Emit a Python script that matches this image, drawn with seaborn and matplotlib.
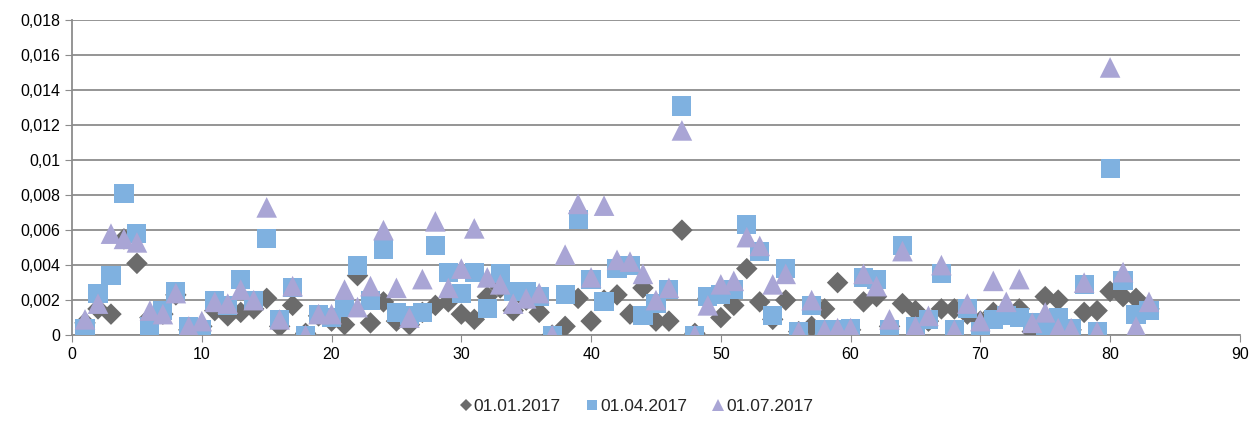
import pandas as pd
import numpy as np
import seaborn as sns
import matplotlib.pyplot as plt
from matplotlib.ticker import FuncFormatter, MultipleLocator

# values (x = 1..83)
idx = list(range(1, 84))

jan = [0.0007, 0.0015, 0.0012, 0.0055, 0.0041, 0.0010, 0.0012, 0.0023, 0.0003, 0.0005,
       0.0014, 0.0011, 0.0013, 0.0015, 0.0021, 0.0005, 0.0017, 0.0001, 0.0011, 0.0008,
       0.0006, 0.0034, 0.0007, 0.0019, 0.0008, 0.0006, 0.0013, 0.0017, 0.0019, 0.0012,
       0.0009, 0.0022, 0.0027, 0.0014, 0.0020, 0.0013, 0.0000, 0.0005, 0.0021, 0.0008,
       0.0020, 0.0023, 0.0012, 0.0027, 0.0008, 0.0008, 0.0060, 0.0001, 0.0021, 0.0010,
       0.0017, 0.0038, 0.0019, 0.0009, 0.0020, 0.0002, 0.0005, 0.0015, 0.0030, 0.0003,
       0.0019, 0.0022, 0.0005, 0.0018, 0.0014, 0.0008, 0.0015, 0.0015, 0.0012, 0.0008,
       0.0013, 0.0012, 0.0015, 0.0002, 0.0022, 0.0020, 0.0003, 0.0013, 0.0014, 0.0025,
       0.0022, 0.0021, 0.0015]

apr = [0.0004, 0.0024, 0.0034, 0.0081, 0.0058, 0.0005, 0.0014, 0.0025, 0.0005, 0.0003,
       0.0020, 0.0017, 0.0032, 0.0020, 0.0055, 0.0009, 0.0027, 0.0000, 0.0012, 0.0010,
       0.0016, 0.0040, 0.0020, 0.0049, 0.0013, 0.0011, 0.0013, 0.0051, 0.0036, 0.0024,
       0.0036, 0.0015, 0.0035, 0.0025, 0.0025, 0.0022, 0.0000, 0.0023, 0.0066, 0.0032,
       0.0019, 0.0038, 0.0040, 0.0011, 0.0018, 0.0026, 0.0131, 0.0000, 0.0022, 0.0023,
       0.0026, 0.0063, 0.0048, 0.0011, 0.0038, 0.0002, 0.0017, 0.0003, 0.0003, 0.0004,
       0.0033, 0.0032, 0.0003, 0.0051, 0.0005, 0.0009, 0.0035, 0.0003, 0.0015, 0.0002,
       0.0009, 0.0011, 0.0010, 0.0007, 0.0004, 0.0010, 0.0004, 0.0029, 0.0002, 0.0095,
       0.0031, 0.0012, 0.0014]

jul = [0.0009, 0.0018, 0.0058, 0.0055, 0.0053, 0.0014, 0.0012, 0.0024, 0.0005, 0.0008,
       0.0019, 0.0018, 0.0026, 0.0020, 0.0073, 0.0009, 0.0028, 0.0000, 0.0012, 0.0012,
       0.0026, 0.0016, 0.0028, 0.0060, 0.0027, 0.0010, 0.0032, 0.0065, 0.0027, 0.0038,
       0.0061, 0.0033, 0.0029, 0.0018, 0.0021, 0.0024, 0.0000, 0.0046, 0.0075, 0.0033,
       0.0074, 0.0043, 0.0042, 0.0035, 0.0020, 0.0027, 0.0117, 0.0000, 0.0017, 0.0029,
       0.0031, 0.0056, 0.0051, 0.0029, 0.0035, 0.0002, 0.0020, 0.0003, 0.0004, 0.0004,
       0.0035, 0.0028, 0.0009, 0.0048, 0.0005, 0.0011, 0.0040, 0.0003, 0.0018, 0.0008,
       0.0031, 0.0019, 0.0032, 0.0007, 0.0013, 0.0004, 0.0004, 0.0030, 0.0002, 0.0153,
       0.0036, 0.0005, 0.0019]

labels = ['01.01.2017', '01.04.2017', '01.07.2017']
colors = ['#6b6b6b', '#7fb1e0', '#a9a5d5']

df = pd.concat([
    pd.DataFrame({'n': idx, 'v': jan, 'date': labels[0]}),
    pd.DataFrame({'n': idx, 'v': apr, 'date': labels[1]}),
    pd.DataFrame({'n': idx, 'v': jul, 'date': labels[2]}),
], ignore_index=True)

sns.set_style('white')
plt.rcParams['font.family'] = ['Liberation Sans', 'DejaVu Sans']

fig = plt.figure(figsize=(12.53, 4.21), dpi=100)
ax = fig.add_axes([0.0575, 0.204, 0.932, 0.748])

sns.scatterplot(data=df, x='n', y='v', hue='date', style='date', size='date',
                palette=dict(zip(labels, colors)),
                markers=dict(zip(labels, ['D', 's', '^'])),
                sizes=dict(zip(labels, [120, 190, 220])),
                linewidth=0, alpha=1, ax=ax, zorder=3)

ax.set_xlim(0, 90)
ax.set_ylim(0, 0.018)
ax.xaxis.set_major_locator(MultipleLocator(10))
ax.yaxis.set_major_locator(MultipleLocator(0.002))
ax.yaxis.set_major_formatter(FuncFormatter(lambda v, p: f'{v:g}'.replace('.', ',')))
ax.grid(axis='y', color='#8c8c8c', linewidth=1.3)
ax.set_axisbelow(True)
ax.set_xlabel('')
ax.set_ylabel('')
for s in ['top', 'right']:
    ax.spines[s].set_visible(False)
for s in ['left', 'bottom']:
    ax.spines[s].set_color('#8c8c8c')
    ax.spines[s].set_linewidth(1.3)
ax.tick_params(axis='both', labelsize=11.5, colors='#8c8c8c', labelcolor='black',
               length=5, direction='out', left=True, bottom=True)

sns.move_legend(ax, 'lower center', bbox_to_anchor=(0.483, -0.3), ncol=3,
                frameon=False, title=None, fontsize=12.5, markerscale=0.55,
                handlelength=0.8, handletextpad=0.05, columnspacing=1.4)

plt.savefig('out.png', dpi=100)
